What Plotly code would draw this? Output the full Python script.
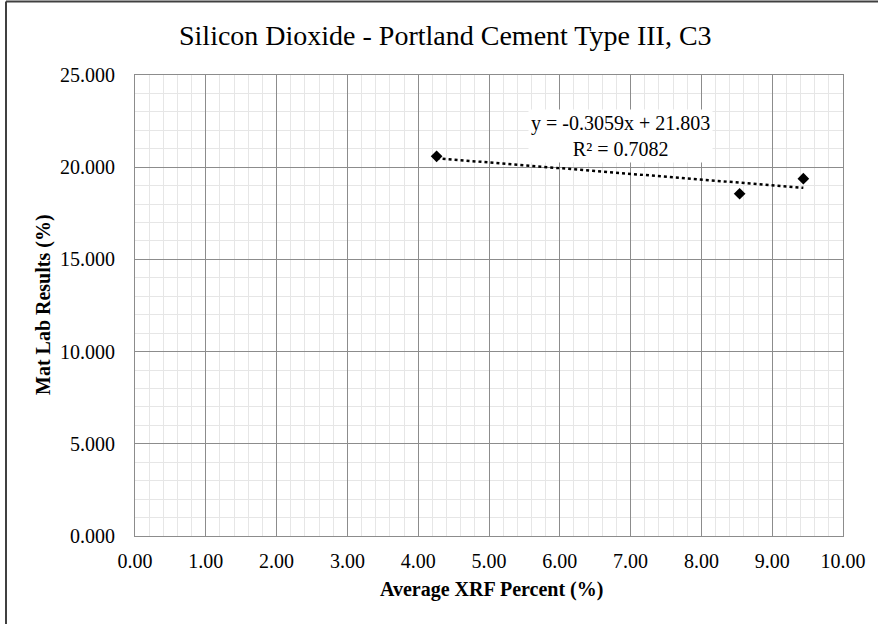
import numpy as np
import plotly.graph_objects as go

# Data
x_xrf = [4.26, 8.54, 9.44]
y_matlab = [20.59, 18.56, 19.38]
x_ticks = [0, 1, 2, 3, 4, 5, 6, 7, 8, 9, 10]
y_ticks = [0, 5, 10, 15, 20, 25]
title_text = "Silicon Dioxide - Portland Cement Type III, C3"
x_title = "Average XRF Percent (%)"
y_title = "Mat Lab Results (%)"
eq_text = "y = -0.3059x + 21.803<br>R² = 0.7082"

slope, intercept = np.polyfit(x_xrf, y_matlab, 1)
x_fit = [min(x_xrf), max(x_xrf)]
y_fit = [slope * v + intercept for v in x_fit]

W, H = 878, 624
L, R, T, B = 135, 35, 75, 88
pw, ph = W - L - R, H - T - B

def px(xp):
    return (xp - L) / pw

def py(yp):
    return (H - B - yp) / ph

FONT = "Liberation Serif"

fig = go.Figure()
fig.add_trace(go.Scatter(x=x_fit, y=y_fit, mode="lines",
                         line=dict(color="black", width=2.5, dash="dot"),
                         showlegend=False, hoverinfo="skip"))
fig.add_trace(go.Scatter(x=x_xrf, y=y_matlab, mode="markers",
                         marker=dict(symbol="diamond", size=9, color="black"),
                         showlegend=False))

axis_common = dict(
    showgrid=True, gridcolor="#8c8c8c", gridwidth=1,
    showline=True, linecolor="#8c8c8c", linewidth=1, mirror=True,
    zeroline=False, ticks="",
    tickfont=dict(family=FONT, size=20, color="black"),
)

fig.update_xaxes(range=[0, 10], tickvals=x_ticks,
                 ticktext=[f"{v:.2f}" for v in x_ticks],
                 minor=dict(dtick=0.2, showgrid=True, gridcolor="#e6e6e6", gridwidth=1),
                 ticklabelstandoff=7, **axis_common)
fig.update_yaxes(range=[0, 25], tickvals=y_ticks,
                 ticktext=[f"{v:.3f}" for v in y_ticks],
                 minor=dict(dtick=1, showgrid=True, gridcolor="#e6e6e6", gridwidth=1),
                 ticklabelstandoff=15, **axis_common)

annotations = [
    dict(text=title_text, x=px(445), y=py(36), xref="paper", yref="paper",
         showarrow=False, xanchor="center", yanchor="middle",
         font=dict(family=FONT, size=28, color="black")),
    dict(text=f"<b>{x_title}</b>", x=px(491), y=py(589), xref="paper", yref="paper",
         showarrow=False, xanchor="center", yanchor="middle",
         font=dict(family=FONT, size=20, color="black")),
    dict(text=f"<b>{y_title}</b>", x=px(43), y=py(305), xref="paper", yref="paper",
         showarrow=False, xanchor="center", yanchor="middle", textangle=-90,
         font=dict(family=FONT, size=20, color="black")),
    dict(text=eq_text, x=px(620), y=py(136), xref="paper", yref="paper",
         showarrow=False, xanchor="center", yanchor="middle",
         bgcolor="white", borderpad=2,
         font=dict(family=FONT, size=20, color="black")),
]

shapes = [
    dict(type="line", xref="paper", yref="paper", x0=px(6), x1=px(6),
         y0=py(1.5), y1=py(H + 5), line=dict(color="#404040", width=2)),
    dict(type="line", xref="paper", yref="paper", x0=px(6), x1=px(W + 5),
         y0=py(1.5), y1=py(1.5), line=dict(color="#404040", width=2)),
]

fig.update_layout(
    width=W, height=H,
    margin=dict(l=L, r=R, t=T, b=B),
    paper_bgcolor="white", plot_bgcolor="white",
    annotations=annotations, shapes=shapes,
    showlegend=False,
)

fig.write_html("out.html",
               config={"displayModeBar": False},
               post_script="document.body.style.margin='0';document.body.style.overflow='hidden';")
